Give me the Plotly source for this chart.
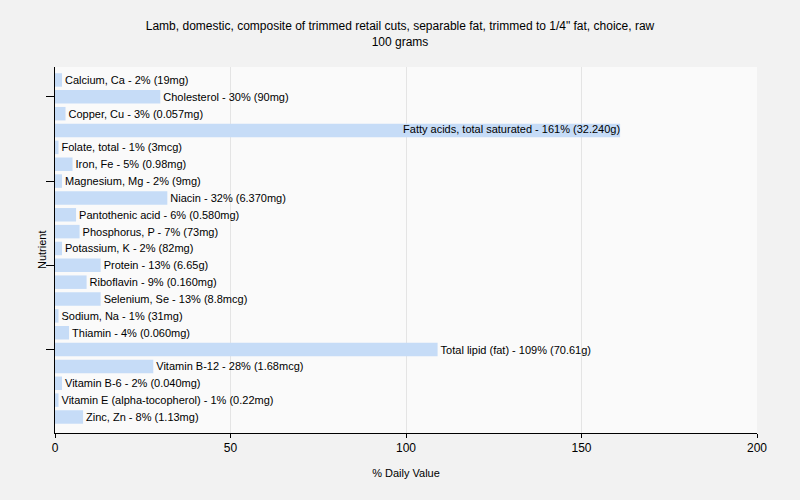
import plotly.graph_objects as go

nutrients = ["Calcium, Ca", "Cholesterol", "Copper, Cu", "Fatty acids, total saturated",
             "Folate, total", "Iron, Fe", "Magnesium, Mg", "Niacin", "Pantothenic acid",
             "Phosphorus, P", "Potassium, K", "Protein", "Riboflavin", "Selenium, Se",
             "Sodium, Na", "Thiamin", "Total lipid (fat)", "Vitamin B-12", "Vitamin B-6",
             "Vitamin E (alpha-tocopherol)", "Zinc, Zn"]
daily_pct = [2, 30, 3, 161, 1, 5, 2, 32, 6, 7, 2, 13, 9, 13, 1, 4, 109, 28, 2, 1, 8]
amounts = ["19mg", "90mg", "0.057mg", "32.240g", "3mcg", "0.98mg", "9mg", "6.370mg",
           "0.580mg", "73mg", "82mg", "6.65g", "0.160mg", "8.8mcg", "31mg", "0.060mg",
           "70.61g", "1.68mcg", "0.040mg", "0.22mg", "1.13mg"]

FONT = "Liberation Sans, Arial, sans-serif"
labels = [f"{n} - {p}% ({a})" for n, p, a in zip(nutrients, daily_pct, amounts)]
inside = [p > 150 for p in daily_pct]
bar_text = ["" if i else t for t, i in zip(labels, inside)]
ticked = [nutrients[i] for i in range(1, len(nutrients), 5)]

fig = go.Figure()
fig.add_trace(go.Bar(
    x=daily_pct, y=nutrients, orientation="h",
    marker=dict(color="#c6dcf7", line=dict(width=0)),
    text=bar_text, textposition="outside",
    textfont=dict(family=FONT, size=11, color="#000000"),
    cliponaxis=False, hoverinfo="skip",
))
fig.add_trace(go.Scatter(
    x=[p for p, i in zip(daily_pct, inside) if i],
    y=[n for n, i in zip(nutrients, inside) if i],
    text=[t for t, i in zip(labels, inside) if i],
    mode="text", textposition="middle left",
    textfont=dict(family=FONT, size=11, color="#000000"),
    hoverinfo="skip", cliponaxis=False,
))

fig.update_layout(
    width=800, height=500,
    margin=dict(l=55, r=43, t=67, b=67),
    paper_bgcolor="#f2f2f2", plot_bgcolor="#fafafa",
    bargap=0.2,
    showlegend=False,
    title=dict(text="Lamb, domestic, composite of trimmed retail cuts, separable fat, trimmed to 1/4\" fat, choice, raw<br>100 grams",
               x=0.5, xanchor="center", y=0.94, yanchor="top",
               font=dict(family=FONT, size=12, color="#000000")),
    font=dict(family=FONT, size=11, color="#000000"),
    annotations=[dict(text="Nutrient", x=0, xref="paper", y=0.5, yref="paper",
                      xanchor="center", yanchor="middle", xshift=-13, textangle=-90,
                      showarrow=False, font=dict(family=FONT, size=11, color="#000000"))],
)
fig.update_xaxes(
    range=[0, 200], tickvals=[0, 50, 100, 150, 200], automargin=False,
    showgrid=True, gridcolor="#e4e4e4", zeroline=False,
    showline=True, linecolor="#000000", linewidth=1,
    ticks="outside", ticklen=4, tickcolor="#000000",
    tickfont=dict(size=12),
    title=dict(text="% Daily Value", font=dict(size=11), standoff=14),
)
fig.update_yaxes(
    categoryorder="array", categoryarray=nutrients, automargin=False,
    range=[20.95, -0.77],
    tickmode="array", tickvals=ticked, ticktext=["" for _ in ticked],
    ticks="outside", ticklen=8, tickcolor="#000000",
    showline=True, linecolor="#000000", linewidth=1,
    showgrid=False,
)

fig.write_html("out.html", config={"displayModeBar": False},
               post_script="document.body.style.margin='0px';")
